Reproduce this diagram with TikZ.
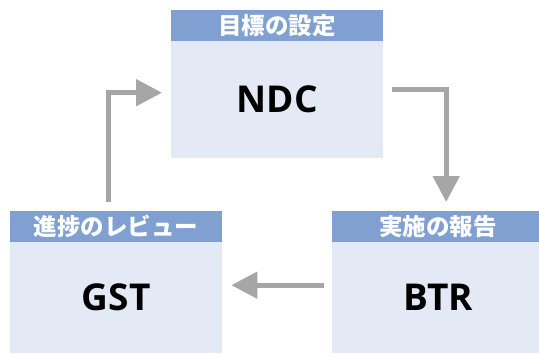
\documentclass[tikz,border=0pt]{standalone}
\usepackage{fontspec}
\setmainfont{Open Sans}
\newfontfamily\jpfont{Noto Sans CJK JP}
\usetikzlibrary{arrows.meta}
\definecolor{hdr}{RGB}{127,160,208}
\definecolor{bdy}{RGB}{228,234,245}
\definecolor{arrcol}{RGB}{166,166,166}
\tikzset{
 bodybox/.style={fill=bdy, draw=none, minimum width=212pt, anchor=north west, inner sep=0pt, font=\bfseries\fontsize{37}{40}\selectfont},
 hdrbox/.style={fill=hdr, draw=none, minimum width=212pt, minimum height=31pt, anchor=north west, inner sep=0pt, text=white, font=\jpfont\bfseries\fontsize{23.5}{24}\selectfont},
 flow/.style={draw=arrcol, line width=5pt, line join=miter, -{Triangle[length=26pt,width=26pt]}},
}
\begin{document}
\begin{tikzpicture}[x=1pt,y=-1pt]
\useasboundingbox (0,0) rectangle (539,354);
\node[hdrbox] (h1) at (171,10) {目標の設定};
\node[bodybox, minimum height=117pt] (ndc) at (171,41) {NDC};
\node[hdrbox] (h2) at (10,211) {進捗のレビュー};
\node[bodybox, minimum height=111pt] (gst) at (10,242) {GST};
\node[hdrbox] (h3) at (332,211) {実施の報告};
\node[bodybox, minimum height=111pt] (btr) at (332,242) {BTR};
\draw[flow] ([xshift=-7.5pt,yshift=9pt]h2.north) |- ([xshift=-9pt,yshift=7pt]ndc.west);
\draw[flow] ([xshift=9pt,yshift=10pt]ndc.east) -| ([xshift=8pt,yshift=9pt]h3.north);
\draw[flow] ([xshift=-8pt,yshift=12.5pt]btr.west) -- ([xshift=9pt,yshift=12.5pt]gst.east);
\end{tikzpicture}
\end{document}
